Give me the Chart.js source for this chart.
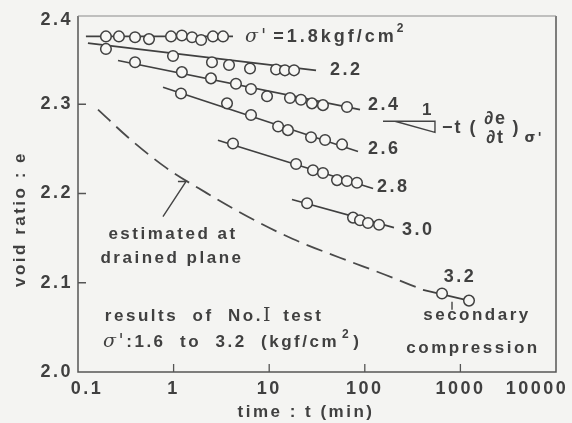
<!DOCTYPE html>
<html>
<head>
<meta charset="utf-8">
<script src="https://cdn.jsdelivr.net/npm/chart.js@4/dist/chart.umd.min.js"></script>
<style>
  html, body { margin: 0; padding: 0; background: #f4f4f2; }
  canvas { display: block; }
</style>
</head>
<body>
<canvas id="chart" width="572" height="423"></canvas>
<script>
// tick values and labels
const xTicks = [0.1, 1, 10, 100, 1000, 10000];
const xTickLabels = ["0.1", "1", "10", "100", "1000", "10000"];
const yTicks = [2.0, 2.1, 2.2, 2.3, 2.4];
const yTickLabels = ["2.0", "2.1", "2.2", "2.3", "2.4"];

// effective stress of each step (kgf/cm2)
const loads = ["1.8", "2.2", "2.4", "2.6", "2.8", "3.0", "3.2"];

// measured points, time t (min) and void ratio e
const t18 = [0.196, 0.268, 0.395, 0.553, 0.94, 1.22, 1.56, 1.94, 2.58, 3.29];
const e18 = [2.376, 2.376, 2.375, 2.373, 2.376, 2.377, 2.375, 2.372, 2.376, 2.376];
const t22 = [0.196, 0.986, 2.52, 3.80, 6.30, 11.8, 14.6, 18.2];
const e22 = [2.362, 2.354, 2.347, 2.344, 2.340, 2.339, 2.338, 2.338];
const t24 = [0.395, 1.22, 2.46, 4.49, 6.45, 9.49, 16.5, 21.5, 28.0, 36.5, 65.1];
const e24 = [2.347, 2.336, 2.329, 2.323, 2.317, 2.309, 2.307, 2.305, 2.301, 2.299, 2.297];
const t26 = [1.195, 3.62, 6.45, 12.4, 15.7, 27.4, 38.4, 57.8];
const e26 = [2.312, 2.301, 2.288, 2.275, 2.271, 2.263, 2.260, 2.255];
const t28 = [4.18, 19.1, 28.7, 36.5, 51.2, 65.1, 82.8];
const e28 = [2.256, 2.233, 2.226, 2.223, 2.215, 2.214, 2.212];
const t30 = [24.9, 75.3, 89.1, 108, 141];
const e30 = [2.189, 2.173, 2.170, 2.167, 2.165];
const t32 = [642, 1230];
const e32 = [2.088, 2.080];

// straight lines drawn through each step (start, end)
const lineT = [[0.121, 4.18], [0.127, 30.9], [0.262, 89.1], [0.775, 84.9], [2.91, 122], [17.3, 202], [406, 1230]];
const lineE = [[2.376, 2.376], [2.3685, 2.338], [2.349, 2.294], [2.319, 2.247], [2.2596, 2.2056], [2.1933, 2.1618], [2.092, 2.080]];

// dashed curve: estimated at drained plane
const drainedT = [0.162, 0.333, 0.832, 2.18, 6.0, 17.7, 55.0, 163, 406];
const drainedE = [2.294, 2.263, 2.229, 2.201, 2.174, 2.149, 2.128, 2.109, 2.092];

// leader lines and the slope triangle
const leaderT = [1.11, 1.35, 0.774];
const leaderE = [2.2135, 2.2135, 2.174];
const secLeaderT = [817, 817];
const secLeaderE = [2.0787, 2.0697];
const slopeT = [155, 542, 542, 207];
const slopeE = [2.281, 2.281, 2.2685, 2.281];

const ink = "#404040";
const paper = "#f6f6f4";

function pts(ts, es) {
  return ts.map((t, i) => ({ x: t, y: es[i] }));
}

const datasets = [];
const tSets = [t18, t22, t24, t26, t28, t30, t32];
const eSets = [e18, e22, e24, e26, e28, e30, e32];
loads.forEach((name, i) => {
  datasets.push({
    label: name,
    data: pts(tSets[i], eSets[i]),
    showLine: false,
    pointRadius: 5.3,
    pointBorderWidth: 1.5,
    pointBackgroundColor: paper,
    pointBorderColor: ink,
    order: 0,
  });
  datasets.push({
    label: name + " line",
    data: pts(lineT[i], lineE[i]),
    showLine: true,
    borderColor: ink,
    borderWidth: 1.7,
    pointRadius: 0,
    order: 2,
  });
});
datasets.push({
  label: "drained",
  data: pts(drainedT, drainedE),
  showLine: true,
  borderColor: "#4a4a4a",
  borderWidth: 1.8,
  borderDash: [17, 8],
  cubicInterpolationMode: "monotone",
  pointRadius: 0,
  order: 3,
});
[[leaderT, leaderE], [secLeaderT, secLeaderE], [slopeT, slopeE]].forEach((p) => {
  datasets.push({
    data: pts(p[0], p[1]),
    showLine: true,
    borderColor: "#444",
    borderWidth: 1.4,
    pointRadius: 0,
    order: 2,
  });
});

const SANS = 'bold 17px "Liberation Sans"';
const BIG = 'bold 18px "Liberation Sans"';
const SIG = 'italic 19px "DejaVu Serif"';
const SUP = 'bold 12px "Liberation Sans"';

// draw a row of text pieces: [text, font, dy, extra gap after]
function drawRich(ctx, x, y, segs, align) {
  let w = 0;
  segs.forEach((s) => { ctx.font = s[1]; w += ctx.measureText(s[0]).width + (s[3] || 0); });
  let cx = align === "center" ? x - w / 2 : align === "right" ? x - w : x;
  segs.forEach((s) => {
    ctx.font = s[1];
    ctx.fillText(s[0], cx, y + (s[2] || 0));
    cx += ctx.measureText(s[0]).width + (s[3] || 0);
  });
}

const decorations = {
  id: "decorations",
  afterDatasetsDraw(chart) {
    const { ctx, chartArea: a, scales } = chart;
    const X = (t) => scales.x.getPixelForValue(t);
    const Y = (e) => scales.y.getPixelForValue(e);
    ctx.save();

    // frame
    ctx.strokeStyle = "#555";
    ctx.lineWidth = 1.5;
    ctx.beginPath();
    ctx.moveTo(a.left, a.top + 1);
    ctx.lineTo(a.left, a.bottom);
    ctx.lineTo(a.right, a.bottom);
    ctx.lineTo(a.right, a.top + 1);
    ctx.stroke();
    ctx.strokeStyle = "#8a8a8a";
    ctx.lineWidth = 1;
    ctx.beginPath();
    ctx.moveTo(a.left, a.top + 1);
    ctx.lineTo(a.right, a.top + 1);
    ctx.stroke();

    // inward ticks
    ctx.strokeStyle = "#555";
    ctx.lineWidth = 1.3;
    ctx.beginPath();
    xTicks.slice(1, -1).forEach((v) => {
      ctx.moveTo(X(v), a.bottom);
      ctx.lineTo(X(v), a.bottom - 8);
    });
    yTicks.slice(1, -1).forEach((v) => {
      ctx.moveTo(a.left, Y(v));
      ctx.lineTo(a.left + 8, Y(v));
    });
    ctx.stroke();

    ctx.fillStyle = ink;
    ctx.textBaseline = "middle";
    ctx.letterSpacing = "2.5px";

    // tick labels
    ctx.font = BIG;
    ctx.textAlign = "center";
    const xShift = [9, 0, 0, 0, 0, -19];
    xTicks.forEach((v, i) => ctx.fillText(xTickLabels[i], X(v) + xShift[i], a.bottom + 17));
    ctx.textAlign = "right";
    yTicks.forEach((v, i) => ctx.fillText(yTickLabels[i], a.left - 5, Y(v) + (i === 4 ? 5 : 0)));

    // axis titles
    ctx.textAlign = "left";
    drawRich(ctx, 306, 412, [["time : t (min)", SANS]], "center");
    ctx.save();
    ctx.translate(20, 219);
    ctx.rotate(-Math.PI / 2);
    drawRich(ctx, 0, 0, [["void ratio : e", SANS]], "center");
    ctx.restore();

    // step labels
    ctx.letterSpacing = "3px";
    drawRich(ctx, X(5.58), Y(2.3753), [["σ'", SIG, 0, 4], ["=1.8kgf/cm", BIG], ["2", SUP, -8]], "left");
    ctx.letterSpacing = "2.5px";
    drawRich(ctx, X(43.3), Y(2.338), [[loads[1], BIG]], "left");
    drawRich(ctx, X(108), Y(2.2989), [[loads[2], BIG]], "left");
    drawRich(ctx, X(108), Y(2.2494), [[loads[3], BIG]], "left");
    drawRich(ctx, X(134), Y(2.2067), [[loads[4], BIG]], "left");
    drawRich(ctx, X(245), Y(2.1596), [[loads[5], BIG]], "left");
    drawRich(ctx, X(990), Y(2.1067), [[loads[6], BIG]], "center");

    // notes
    drawRich(ctx, X(0.986), Y(2.154), [["estimated at", SANS]], "center");
    drawRich(ctx, X(0.962), Y(2.127), [["drained plane", SANS]], "center");
    drawRich(ctx, X(1492), Y(2.064), [["secondary", SANS]], "center");
    drawRich(ctx, X(1355), Y(2.027), [["compression", SANS]], "center");
    drawRich(ctx, X(0.191), Y(2.0629),
      [["results  of  No.", SANS], ["I", '19px "DejaVu Serif"', 0, 3], [" test", SANS]], "left");
    drawRich(ctx, X(0.183), Y(2.0337),
      [["σ'", SIG], [":1.6  to  3.2  (kgf/cm", SANS, 0, 3], ["2", SUP, -7, 2], [")", SANS]], "left");

    // slope note
    drawRich(ctx, X(458), Y(2.2933), [["1", SANS]], "center");
    const fx = X(642), fy = Y(2.273);
    ctx.letterSpacing = "2px";
    drawRich(ctx, fx, fy, [["−t (", BIG]], "left");
    ctx.font = BIG;
    const w0 = ctx.measureText("−t (").width;
    drawRich(ctx, fx + w0 + 18, fy - 9, [["∂e", BIG]], "center");
    drawRich(ctx, fx + w0 + 18, fy + 10, [["∂t", BIG]], "center");
    drawRich(ctx, fx + w0 + 35, fy, [[")", BIG]], "left");
    drawRich(ctx, fx + w0 + 47, fy + 10, [["σ'", 'bold 14px "DejaVu Sans"']], "left");

    ctx.restore();
  },
};

new Chart(document.getElementById("chart"), {
  type: "scatter",
  data: { datasets: datasets },
  options: {
    responsive: false,
    animation: false,
    layout: { padding: { top: 15, right: 16, left: 0, bottom: 0 } },
    plugins: { legend: { display: false }, tooltip: { enabled: false } },
    scales: {
      x: {
        type: "logarithmic",
        min: 0.1,
        max: 10000,
        grid: { display: false },
        border: { display: false },
        ticks: { display: false },
        afterFit: (s) => { s.height = 51; },
      },
      y: {
        type: "linear",
        min: 2.0,
        max: 2.4,
        grid: { display: false },
        border: { display: false },
        ticks: { display: false },
        afterFit: (s) => { s.width = 78; },
      },
    },
  },
  plugins: [decorations],
});
</script>
</body>
</html>
